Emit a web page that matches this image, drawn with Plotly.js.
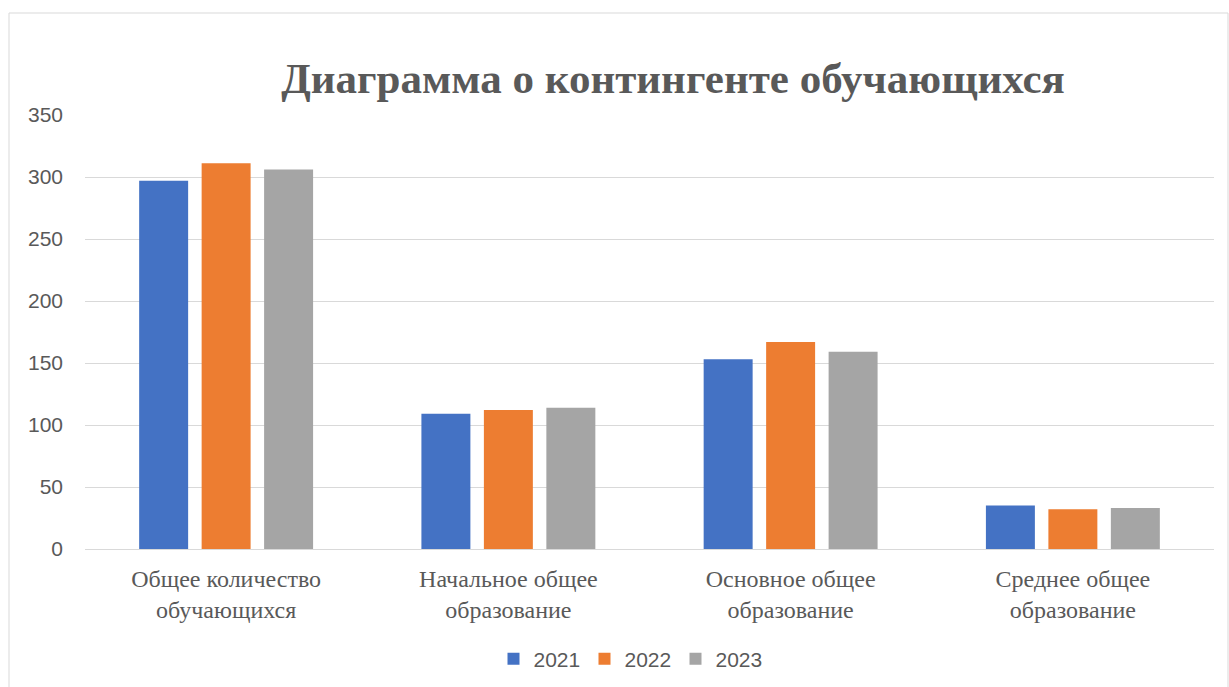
<!DOCTYPE html>
<html>
<head>
<meta charset="utf-8">
<script src="https://cdn.plot.ly/plotly-3.0.1.min.js"></script>
<style>html,body{margin:0;padding:0;background:#fff;}#chart{width:1229px;height:687px;}</style>
</head>
<body>
<div id="chart"></div>
<script>
const categories = [
  "Общее количество<br>обучающихся",
  "Начальное общее<br>образование",
  "Основное общее<br>образование",
  "Среднее общее<br>образование"
];
const series2021 = [297, 109, 153, 35];
const series2022 = [311, 112, 167, 32];
const series2023 = [306, 114, 159, 33];
const seriesNames = ["2021", "2022", "2023"];
const seriesColors = ["#4472C4", "#ED7D31", "#A5A5A5"];
const yTicks = [0, 50, 100, 150, 200, 250, 300, 350];

const allSeries = [series2021, series2022, series2023];
const traces = allSeries.map((vals, i) => ({
  type: "bar",
  name: seriesNames[i],
  x: categories,
  y: vals,
  marker: {color: seriesColors[i]},
  hoverinfo: "x+y+name"
}));

const W = 1229, H = 687;
const mL = 85, mR = 15, mT = 115, mB = 138;
const pw = W - mL - mR, ph = H - mT - mB;
const px = v => (v - mL) / pw;
const py = v => (H - mB - v) / ph;

const layout = {
  width: W, height: H,
  margin: {l: mL, r: mR, t: mT, b: mB, pad: 0, autoexpand: false},
  paper_bgcolor: "#ffffff",
  plot_bgcolor: "#ffffff",
  barmode: "group",
  bargap: 0.336,
  bargroupgap: 0.216,
  title: {
    text: "<b>Диаграмма о контингенте обучающихся</b>",
    font: {family: "Liberation Serif", size: 43, color: "#595959"},
    x: 673 / W, xanchor: "center",
    y: 1 - 78 / H, yanchor: "middle"
  },
  xaxis: {
    type: "category",
    automargin: false,
    showgrid: false,
    showline: true,
    linecolor: "#d9d9d9",
    linewidth: 1,
    ticks: "",
    tickfont: {family: "Liberation Serif", size: 24, color: "#595959"},
    ticklabelstandoff: 8
  },
  yaxis: {
    range: [0, 350],
    automargin: false,
    tickvals: yTicks,
    ticktext: yTicks.map(String),
    showgrid: true,
    gridcolor: "#d9d9d9",
    gridwidth: 1,
    zeroline: true,
    zerolinecolor: "#d9d9d9",
    showline: false,
    ticks: "",
    tickfont: {family: "Liberation Sans", size: 21, color: "#595959"},
    ticklabelstandoff: 21
  },
  showlegend: true,
  legend: {
    orientation: "h",
    x: px(630), xanchor: "center",
    y: py(659), yanchor: "middle",
    font: {family: "Liberation Sans", size: 21, color: "#595959"},
    itemwidth: 30,
    entrywidth: 46,
    traceorder: "normal"
  },
  shapes: [{
    type: "rect", xref: "paper", yref: "paper",
    x0: px(9), x1: px(1228), y0: py(720), y1: py(13),
    line: {color: "#d9d9d9", width: 1},
    fillcolor: "rgba(0,0,0,0)", layer: "below"
  }]
};

Plotly.newPlot("chart", traces, layout, {displayModeBar: false, staticPlot: true});
</script>
</body>
</html>
